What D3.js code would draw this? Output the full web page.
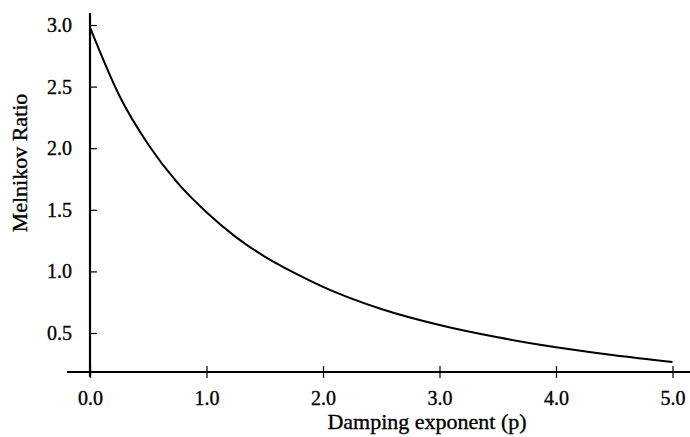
<!DOCTYPE html>
<html>
<head>
<meta charset="utf-8">
<script src="https://cdn.jsdelivr.net/npm/d3@7"></script>
<style>
  body { margin: 0; background: #fff; }
  svg text { font-family: "Liberation Serif", "DejaVu Serif", serif; fill: #000; stroke: #000; stroke-width: 0.35px; }
</style>
</head>
<body>
<div id="chart"></div>
<script>
// damping exponent p and Melnikov ratio
var pValues = [0, 0.25, 0.5, 0.75, 1.0, 1.25, 1.5, 1.75, 2.0, 2.5, 3.0, 3.5, 4.0, 4.5, 5.0];
var ratioValues = [2.98, 2.43, 2.03, 1.72, 1.48, 1.28, 1.12, 0.99, 0.875, 0.695, 0.565, 0.465, 0.385, 0.32, 0.265];

var xTicks = [0, 1, 2, 3, 4, 5];
var yTicks = [0.5, 1.0, 1.5, 2.0, 2.5, 3.0];

var data = pValues.map(function(p, i) { return {p: p, r: ratioValues[i]}; });

var width = 690, height = 437;

var svg = d3.select("#chart").append("svg")
    .attr("width", width)
    .attr("height", height);

var x = d3.scaleLinear().domain([0, 5]).range([90, 672.5]);
var y = d3.scaleLinear().domain([0.5, 3.0]).range([333, 25]);

var axisY = 372;

// y axis, ticks pointing into the plot
var yAxis = svg.append("g")
    .attr("class", "yaxis")
    .attr("transform", "translate(" + x(0) + ",0)")
    .call(d3.axisLeft(y).tickValues(yTicks).tickFormat(d3.format(".1f"))
        .tickSizeInner(-7).tickSizeOuter(0).tickPadding(18));
yAxis.select(".domain").remove();
yAxis.selectAll("text").style("font-size", "20px");
yAxis.selectAll(".tick line").attr("stroke-width", 1.2);

// x axis, ticks crossing the line
var xAxis = svg.append("g")
    .attr("class", "xaxis")
    .attr("transform", "translate(0," + axisY + ")")
    .call(d3.axisBottom(x).tickValues(xTicks).tickFormat(d3.format(".1f"))
        .tickSizeInner(6).tickSizeOuter(0).tickPadding(13));
xAxis.select(".domain").remove();
xAxis.selectAll(".tick line").attr("y1", -6).attr("stroke-width", 1.2);
xAxis.selectAll("text").style("font-size", "20px");

// axis lines
svg.append("line")
    .attr("x1", x(0)).attr("x2", x(0))
    .attr("y1", 13).attr("y2", 377)
    .attr("stroke", "#000").attr("stroke-width", 2.2);
svg.append("line")
    .attr("x1", 67).attr("x2", width)
    .attr("y1", axisY).attr("y2", axisY)
    .attr("stroke", "#000").attr("stroke-width", 2.2);

// curve
var line = d3.line()
    .x(function(d) { return x(d.p); })
    .y(function(d) { return y(d.r); })
    .curve(d3.curveMonotoneX);

svg.append("path")
    .datum(data)
    .attr("fill", "none")
    .attr("stroke", "#000")
    .attr("stroke-width", 2)
    .attr("d", line);

// axis titles
svg.append("text")
    .attr("x", 427).attr("y", 429)
    .attr("text-anchor", "middle")
    .style("font-size", "22px")
    .text("Damping exponent (p)");

svg.append("text")
    .attr("transform", "translate(27,163) rotate(-90)")
    .attr("text-anchor", "middle")
    .style("font-size", "22px")
    .text("Melnikov Ratio");
</script>
</body>
</html>
